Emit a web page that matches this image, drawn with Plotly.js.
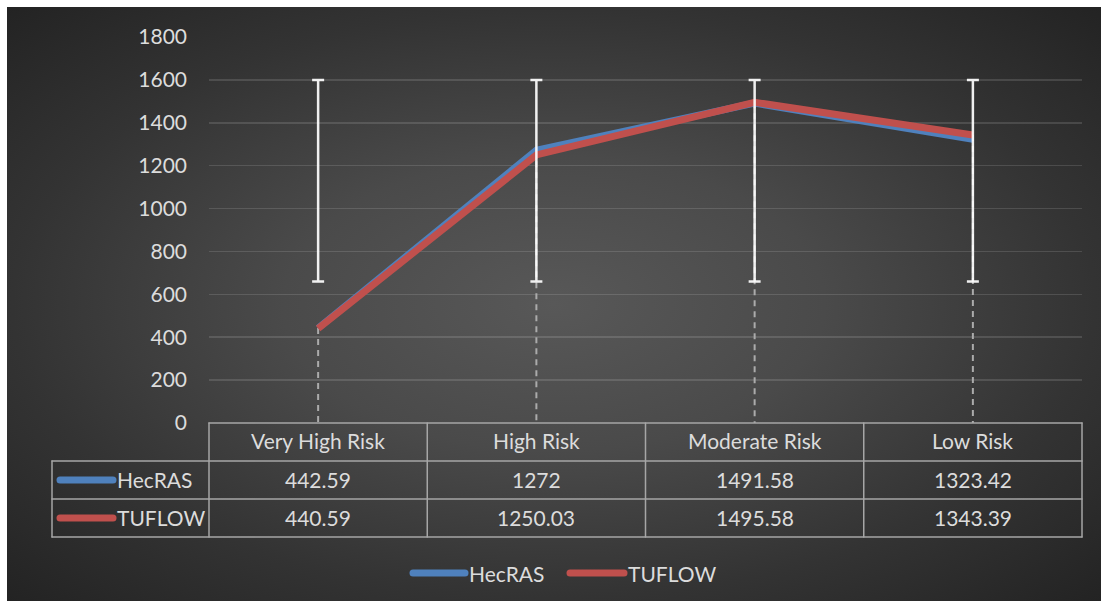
<!DOCTYPE html>
<html>
<head>
<meta charset="utf-8">
<script src="https://cdn.plot.ly/plotly-3.0.1.min.js"></script>
<style>
  html, body { margin: 0; padding: 0; background: #ffffff; }
  #bg { position: absolute; left: 7px; top: 7px; width: 1094px; height: 594px;
        background: radial-gradient(ellipse farthest-corner at 50% 50%, #585858 0%, #4a4a4a 35%, #333333 70%, #232323 100%); }
  #chart { position: absolute; left: 0; top: 0; width: 1101px; height: 606px; }
  .shapelayer path { stroke-linecap: round; }
</style>
</head>
<body>
<div id="bg"></div>
<div id="chart"></div>
<script>
// ---- data ----
const categories = ['Very High Risk', 'High Risk', 'Moderate Risk', 'Low Risk'];
const hecras = [442.59, 1272, 1491.58, 1323.42];
const tuflow = [440.59, 1250.03, 1495.58, 1343.39];
const barHigh = [1600, 1600, 1600, 1600];
const barLow = [660, 660, 660, 660];
const seriesNames = ['HecRAS', 'TUFLOW'];
const yTicks = [0, 200, 400, 600, 800, 1000, 1200, 1400, 1600, 1800];

// ---- styling ----
const colors = ['#4f81bd', '#c0504d'];
const txtColor = '#dcdcdc';
const tableColor = '#a6a6a6';
const font = 'Lato, "Open Sans", sans-serif';
const fs = 21;

// plot area in pixels
const W = 1101, H = 606;
const L = 209, R = 1082, T = 37, B = 423;
const px = x => (x - L) / (R - L);
const py = y => (B - y) / (B - T);

const idx = categories.map((_, i) => i);
const series = [hecras, tuflow];

// drop lines
const dropX = [], dropY = [];
idx.forEach(i => {
  dropX.push(i, i, null);
  dropY.push(Math.max(hecras[i], tuflow[i]), 0, null);
});

const traces = [
  { x: dropX, y: dropY, mode: 'lines', hoverinfo: 'skip', showlegend: false,
    line: { color: '#ababab', width: 2, dash: '6px,5px' } },
  ...series.map((s, k) => ({
    x: idx, y: s, name: seriesNames[k], mode: 'lines', showlegend: false,
    line: { color: colors[k], width: 7 }
  })),
  { x: idx, y: idx.map(i => (barHigh[i] + barLow[i]) / 2), mode: 'markers',
    marker: { opacity: 0, size: 1 }, showlegend: false, hoverinfo: 'skip',
    error_y: { type: 'data', symmetric: true, array: idx.map(i => (barHigh[i] - barLow[i]) / 2),
               color: 'rgba(255,255,255,0.92)', thickness: 2.5, width: 6 } }
];

const shapes = [];
const annotations = [];
const tl = (x0, y0, x1, y1) => shapes.push({ type: 'line', xref: 'paper', yref: 'paper',
  x0: px(x0), y0: py(y0), x1: px(x1), y1: py(y1), line: { color: tableColor, width: 1.5 } });

// table geometry
const colEdges = [209, 427.25, 645.5, 863.75, 1082];
const rowEdges = [423, 461, 499, 537];
const leftEdge = 52;
tl(colEdges[0], rowEdges[0], colEdges[4], rowEdges[0]);
tl(leftEdge, rowEdges[1], colEdges[4], rowEdges[1]);
tl(leftEdge, rowEdges[2], colEdges[4], rowEdges[2]);
tl(leftEdge, rowEdges[3], colEdges[4], rowEdges[3]);
colEdges.forEach(x => tl(x, rowEdges[0], x, rowEdges[3]));
tl(leftEdge, rowEdges[1], leftEdge, rowEdges[3]);

const ann = (x, y, text, xanchor, xref) => annotations.push({
  xref: xref || 'paper', yref: 'paper', x: x, y: py(y), text: text, showarrow: false,
  xanchor: xanchor || 'center', yanchor: 'middle', font: { family: font, size: fs, color: txtColor }
});

// header row
categories.forEach((c, i) => ann(i, (rowEdges[0] + rowEdges[1]) / 2 - 1.5, c, 'center', 'x'));
// data rows
series.forEach((s, k) => {
  const yc = (rowEdges[k + 1] + rowEdges[k + 2]) / 2;
  s.forEach((v, i) => ann(i, yc - 1, String(v), 'center', 'x'));
  shapes.push({ type: 'line', xref: 'paper', yref: 'paper', x0: px(60), x1: px(113), y0: py(yc), y1: py(yc),
    line: { color: colors[k], width: 7 } });
  ann(px(115), yc - 1, seriesNames[k], 'left');
});

// bottom legend
const legY = 573;
const legKeys = [[413, 465, 467], [570, 624, 626]];
seriesNames.forEach((n, k) => {
  shapes.push({ type: 'line', xref: 'paper', yref: 'paper', x0: px(legKeys[k][0]), x1: px(legKeys[k][1]),
    y0: py(legY), y1: py(legY), line: { color: colors[k], width: 7 } });
  ann(px(legKeys[k][2]), legY, n, 'left');
});

const layout = {
  width: W, height: H,
  margin: { l: L, r: W - R, t: T, b: H - B, pad: 0 },
  paper_bgcolor: 'rgba(0,0,0,0)', plot_bgcolor: 'rgba(0,0,0,0)',
  showlegend: false,
  xaxis: { range: [-0.5, 3.5], showgrid: false, zeroline: false, showticklabels: false,
           showline: false, ticks: '', fixedrange: true },
  yaxis: { range: [0, 1800], tickvals: yTicks, ticktext: yTicks.map(String),
           showgrid: true, gridcolor: 'rgba(255,255,255,0.13)', gridwidth: 1.5,
           zeroline: false, showline: false, ticks: '', ticklabelstandoff: 21,
           tickfont: { family: font, size: fs, color: txtColor }, fixedrange: true },
  shapes: shapes,
  annotations: annotations
};

Plotly.newPlot('chart', traces, layout, { displayModeBar: false, staticPlot: true });
</script>
</body>
</html>
